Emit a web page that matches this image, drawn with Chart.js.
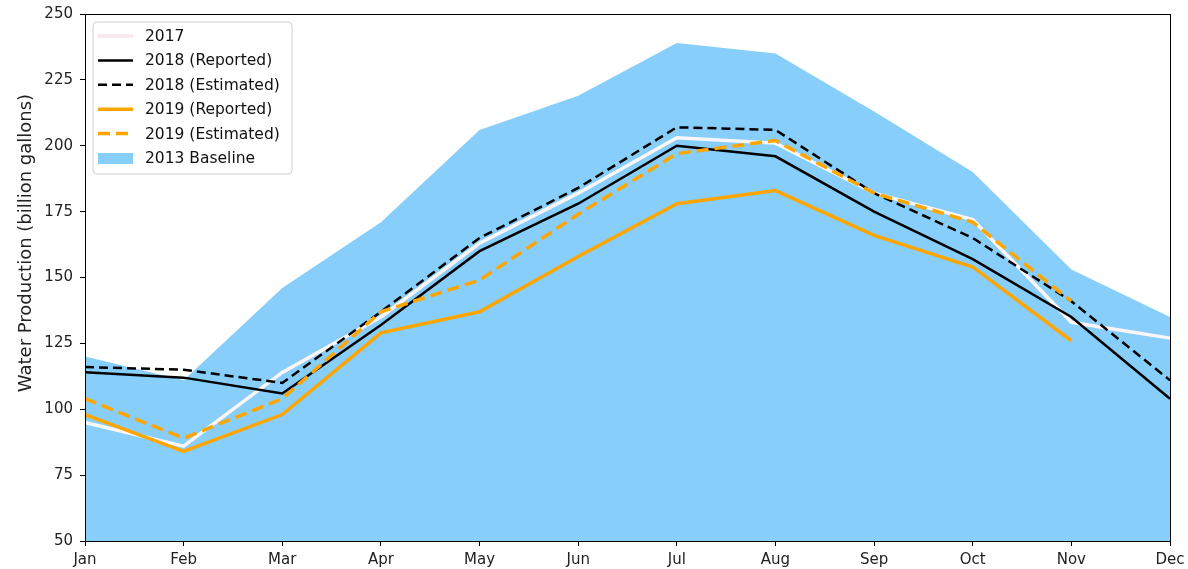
<!DOCTYPE html>
<html>
<head>
<meta charset="utf-8">
<script src="https://cdn.jsdelivr.net/npm/chart.js@4/dist/chart.umd.min.js"></script>
<style>
  html, body { margin: 0; padding: 0; background: #fff; }
  #wrap { width: 1188px; height: 569px; position: relative; }
</style>
</head>
<body>
<div id="wrap"><canvas id="chart"></canvas></div>
<script>
// Monthly water production, billion gallons
const months = ['Jan', 'Feb', 'Mar', 'Apr', 'May', 'Jun', 'Jul', 'Aug', 'Sep', 'Oct', 'Nov', 'Dec'];
const yTicks = [50, 75, 100, 125, 150, 175, 200, 225, 250];

const baseline2013 = [120, 111, 146, 171, 206, 219, 239, 235, 213, 190, 153, 135];
const prod2017     = [95, 86, 114, 135, 163, 182, 203, 201, 182, 172, 133, 127];
const reported2018 = [114, 112, 106, 132, 160, 178, 200, 196, 175, 157, 135, 104];
const estimated2018 = [116, 115, 110, 137, 165, 184, 207, 206, 182, 165, 141, 111];
const reported2019 = [98, 84, 98, 129, 137, 158, 178, 183, 166, 154, 126, null];
const estimated2019 = [104, 89, 104, 137, 149, 174, 197, 202, 182, 171, 141, null];

const FONT = "'DejaVu Sans', sans-serif";

// Boxed legend in the upper-left corner, styled from each dataset
const boxLegend = {
  id: 'boxLegend',
  afterDraw(chart) {
    const ctx = chart.ctx;
    const x0 = 93, y0 = 22, w = 199, h = 152, r = 4;
    ctx.save();
    ctx.beginPath();
    ctx.roundRect(x0, y0, w, h, r);
    ctx.fillStyle = 'rgba(255,255,255,0.85)';
    ctx.fill();
    ctx.strokeStyle = '#d0d0d0';
    ctx.lineWidth = 1;
    ctx.stroke();

    const entries = chart.data.datasets.map(ds => ds).sort((a, b) => a.legendRank - b.legendRank);
    ctx.font = '15.5px ' + FONT;
    ctx.textBaseline = 'middle';
    entries.forEach((ds, i) => {
      const y = 36 + i * 24.4;
      if (ds.fill) {
        ctx.fillStyle = ds.backgroundColor;
        ctx.fillRect(98, y - 5, 35, 11);
      } else {
        ctx.beginPath();
        ctx.setLineDash(ds.borderDash || []);
        ctx.lineWidth = ds.borderWidth;
        ctx.strokeStyle = ds.legendColor || ds.borderColor;
        ctx.moveTo(98, y);
        ctx.lineTo(133, y);
        ctx.stroke();
        ctx.setLineDash([]);
      }
      ctx.fillStyle = '#111';
      ctx.fillText(ds.label, 145, y + 1);
    });
    ctx.restore();
  }
};

// Axes frame and rotated y-axis title
const frame = {
  id: 'frame',
  afterDraw(chart) {
    const { ctx, chartArea: a } = chart;
    ctx.save();
    ctx.strokeStyle = '#000';
    ctx.lineWidth = 1;
    ctx.strokeRect(a.left + 0.5, a.top + 0.5, a.right - a.left, a.bottom - a.top);
    ctx.translate(26, 243);
    ctx.rotate(-Math.PI / 2);
    ctx.font = '18px ' + FONT;
    ctx.fillStyle = '#222';
    ctx.textAlign = 'center';
    ctx.textBaseline = 'middle';
    ctx.fillText('Water Production (billion gallons)', 0, 0);
    ctx.restore();
  }
};

new Chart(document.getElementById('chart'), {
  type: 'line',
  data: {
    labels: months,
    datasets: [
      { label: '2013 Baseline', data: baseline2013, fill: 'origin', backgroundColor: '#87CEFA',
        borderColor: '#87CEFA', borderWidth: 0, order: 6, legendRank: 5 },
      { label: '2017', data: prod2017, borderColor: '#fdf6f8', legendColor: '#f6e8ec', borderWidth: 3.5,
        fill: false, order: 5, legendRank: 0 },
      { label: '2018 (Reported)', data: reported2018, borderColor: '#000', borderWidth: 2.5,
        fill: false, order: 4, legendRank: 1 },
      { label: '2018 (Estimated)', data: estimated2018, borderColor: '#000', borderWidth: 2.5,
        borderDash: [9, 5], fill: false, order: 3, legendRank: 2 },
      { label: '2019 (Reported)', data: reported2019, borderColor: '#FFA500', borderWidth: 3.5,
        fill: false, order: 2, legendRank: 3 },
      { label: '2019 (Estimated)', data: estimated2019, borderColor: '#FFA500', borderWidth: 3.5,
        borderDash: [12, 6], fill: false, order: 1, legendRank: 4 }
    ]
  },
  options: {
    responsive: true,
    maintainAspectRatio: false,
    animation: false,
    layout: { padding: { top: 14, right: 18, left: 0, bottom: 0 } },
    elements: { point: { radius: 0, hoverRadius: 0 }, line: { tension: 0, borderCapStyle: 'butt', borderJoinStyle: 'miter' } },
    plugins: { legend: { display: false }, tooltip: { enabled: false } },
    scales: {
      x: {
        offset: false,
        grid: { drawOnChartArea: false, drawTicks: true, tickLength: 5, color: '#000' },
        border: { display: true, color: '#000' },
        ticks: { color: '#222', font: { family: FONT, size: 15 }, padding: 5, maxRotation: 0, autoSkip: false },
        afterFit(scale) { scale.height = 28; scale.paddingLeft = 0; scale.paddingRight = 0; }
      },
      y: {
        min: 50, max: 250,
        afterBuildTicks(scale) { scale.ticks = yTicks.map(v => ({ value: v })); },
        grid: { drawOnChartArea: false, drawTicks: true, tickLength: 5, color: '#000' },
        border: { display: true, color: '#000' },
        ticks: { color: '#222', font: { family: FONT, size: 15 }, padding: 7 },
        afterFit(scale) { scale.width = 85; scale.paddingTop = 0; scale.paddingBottom = 0; }
      }
    }
  },
  plugins: [boxLegend, frame]
});
</script>
</body>
</html>
